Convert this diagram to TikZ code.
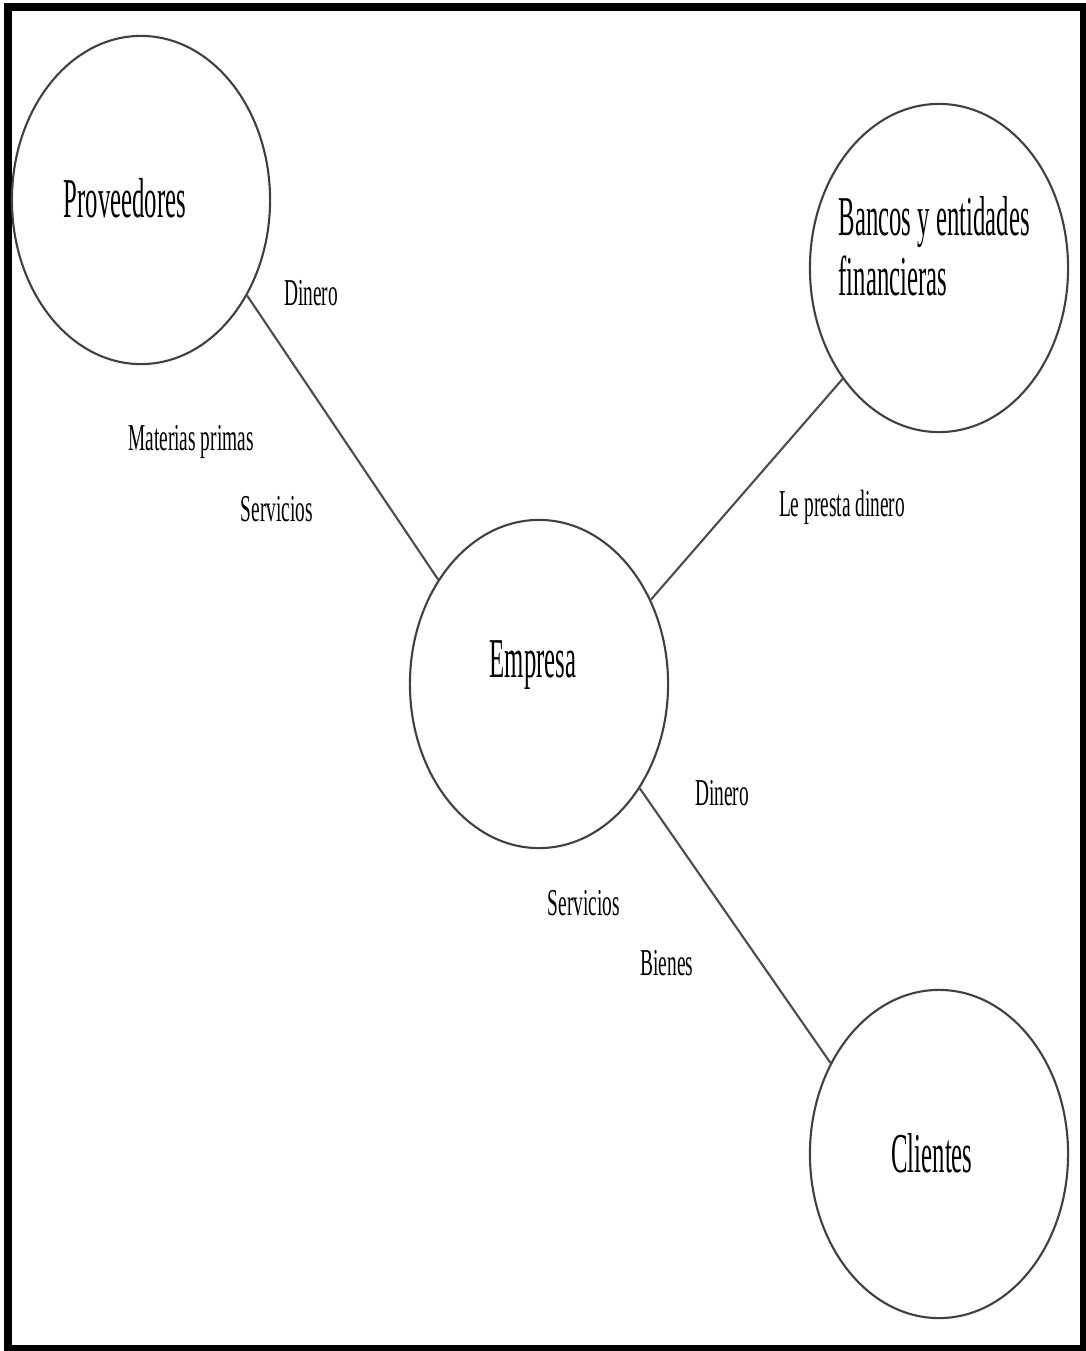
\documentclass[tikz,border=0pt]{standalone}
\usepackage{fontspec}
\usepackage{tikz}
\usetikzlibrary{shapes.geometric, positioning}
\newfontfamily\condserif[FakeStretch=0.44]{Liberation Serif}
\newfontfamily\flowserif[FakeStretch=0.51]{Liberation Serif}

\begin{document}
\begin{tikzpicture}[x=0.01cm, y=-0.01cm,
  ent/.style={ellipse, draw=black!75, line width=0.6pt, inner sep=0pt,
              minimum width=2.58cm, minimum height=3.28cm},
  entname/.style={font=\condserif\fontsize{16}{17}\selectfont, inner sep=0pt, anchor=base},
  flow/.style={font=\flowserif\fontsize{10.8}{12}\selectfont, inner sep=0pt, anchor=base},
  link/.style={draw=black!70, line width=0.6pt}
]
  \useasboundingbox (0,0) rectangle (1086,1351);
  \draw[line width=2.3pt] (8,7) rectangle (1084,1349);

  \node[ent] (prov)   at (141,200)  {};
  \node[ent] (bancos) at (939,268)  {};
  \node[ent] (emp)    at (539,684)  {};
  \node[ent] (cli)    at (939,1154) {};

  \node[entname] (provtxt) at (125,217)  {Proveedores};
  \node[entname, anchor=north west, align=left] (bancostxt) at (838,196)
    {Bancos y entidades\\financieras};
  \node[entname] (emptxt)  at (533,677)  {Empresa};
  \node[entname] (clitxt)  at (932,1172) {Clientes};

  \draw[link] (prov.-42) -- (emp.134);
  \draw[link] (bancos.-131) -- (emp.37);
  \draw[link] (emp.-46) -- (cli.140);

  \node[flow] (dinero1)   at (311,305) {Dinero};
  \node[flow] (materias)  at (191,450) {Materias primas};
  \node[flow] (serv1)     at (277,521) {Servicios};
  \node[flow] (presta)    at (842,516) {Le presta dinero};
  \node[flow] (dinero2)   at (722,805) {Dinero};
  \node[flow] (serv2)     at (584,915) {Servicios};
  \node[flow] (bienes)    at (667,975) {Bienes};
\end{tikzpicture}
\end{document}
